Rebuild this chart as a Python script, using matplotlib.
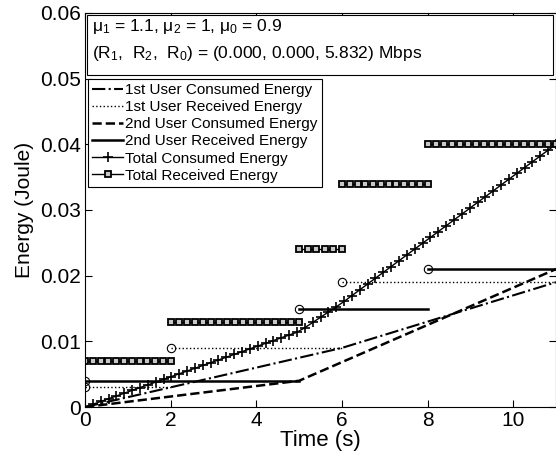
import numpy as np
import matplotlib
matplotlib.use('Agg')
import matplotlib.pyplot as plt
from matplotlib.patches import Rectangle

plt.rcParams['font.family'] = ['Liberation Sans', 'DejaVu Sans']
plt.rcParams['mathtext.fontset'] = 'custom'
plt.rcParams['mathtext.rm'] = 'Liberation Sans'
plt.rcParams['mathtext.it'] = 'Liberation Sans'

# dados
t_fim = 11

# energia recebida (inicio de cada degrau, valor)
u1_rec_t = [0, 2, 6]
u1_rec_e = [0.003, 0.009, 0.019]
u2_rec_t = [0, 5, 8]
u2_rec_e = [0.004, 0.015, 0.021]

# energia consumida (pontos de quebra)
u1_con_t = [0, 2, 6, 11]
u1_con_e = [0, 0.003, 0.009, 0.019]
u2_con_t = [0, 5, 11]
u2_con_e = [0, 0.004, 0.021]

# total recebido (degraus)
tot_rec_t = [0, 2, 5, 6, 8]
tot_rec_e = [0.007, 0.013, 0.024, 0.034, 0.040]
tot_rec_n = [12, 17, 6, 12, 17]  # quantidade de marcadores em cada degrau

fig = plt.figure(figsize=(5.56, 4.62), dpi=100)
ax = fig.add_axes([0.153, 0.119, 0.847, 0.853])

ax.plot(u1_con_t, u1_con_e, 'k-.', lw=1.5, label='1st User Consumed Energy')

def degraus(ax, ts, es, estilo, lw, label):
    for i in range(len(ts)):
        fim = ts[i+1] if i+1 < len(ts) else t_fim
        ax.plot([ts[i], fim], [es[i], es[i]], estilo, color='k', lw=lw,
                label=label if i == 0 else None)
        ax.plot(ts[i], es[i], 'o', mfc='none', mec='k', ms=6, mew=0.8)

degraus(ax, u1_rec_t, u1_rec_e, ':', 1.0, '1st User Received Energy')
ax.plot(u2_con_t, u2_con_e, 'k--', lw=1.8, label='2nd User Consumed Energy')
degraus(ax, u2_rec_t, u2_rec_e, '-', 1.8, '2nd User Received Energy')

# total consumido = soma dos dois usuarios
tt = np.linspace(0, t_fim, 61)
tot_con = np.interp(tt, u1_con_t, u1_con_e) + np.interp(tt, u2_con_t, u2_con_e)
ax.plot(tt, tot_con, 'k-+', lw=1.0, ms=7, mew=1.2, label='Total Consumed Energy')

for i in range(len(tot_rec_t)):
    fim = tot_rec_t[i+1] if i+1 < len(tot_rec_t) else t_fim
    xs = np.linspace(tot_rec_t[i], fim, tot_rec_n[i])
    ax.plot(xs, np.full_like(xs, tot_rec_e[i]), 'k-s', lw=1.0, ms=5, mfc='#c8c8c8',
            mew=1.3, label='Total Received Energy' if i == 0 else None)

ax.set_xlim(0, 11)
ax.set_ylim(0, 0.06)
ax.set_xticks([0, 2, 4, 6, 8, 10])
ax.set_yticks([0, 0.01, 0.02, 0.03, 0.04, 0.05, 0.06])
ax.set_yticklabels(['0', '0.01', '0.02', '0.03', '0.04', '0.05', '0.06'])
ax.tick_params(direction='in', top=True, right=True, labelsize=15, length=5, pad=3)
ax.set_xlabel('Time (s)', fontsize=16, labelpad=0)
ax.set_ylabel('Energy (Joule)', fontsize=15, labelpad=4)

# caixa de texto
ax.add_patch(Rectangle((0.004, 0.843), 0.99, 0.153, transform=ax.transAxes,
                       fill=True, fc='white', ec='k', lw=0.8, zorder=5))
ax.text(0.014, 0.99, r'$\mathrm{\mu}_1$ = 1.1, $\mathrm{\mu}_2$ = 1, $\mathrm{\mu}_0$ = 0.9',
        transform=ax.transAxes, fontsize=12.5, va='top', zorder=6)
ax.text(0.014, 0.922, r'(R$_1$,  R$_2$,  R$_0$) = (0.000, 0.000, 5.832) Mbps',
        transform=ax.transAxes, fontsize=12.5, va='top', zorder=6)

leg = ax.legend(loc='upper left', bbox_to_anchor=(0.006, 0.833), borderaxespad=0,
                fontsize=11, fancybox=False, framealpha=1, edgecolor='k',
                handlelength=2.0, handletextpad=0.15, labelspacing=0.2,
                borderpad=0.3)
leg.get_frame().set_linewidth(0.8)
leg.set_zorder(6)

fig.savefig('out.png', dpi=100)
